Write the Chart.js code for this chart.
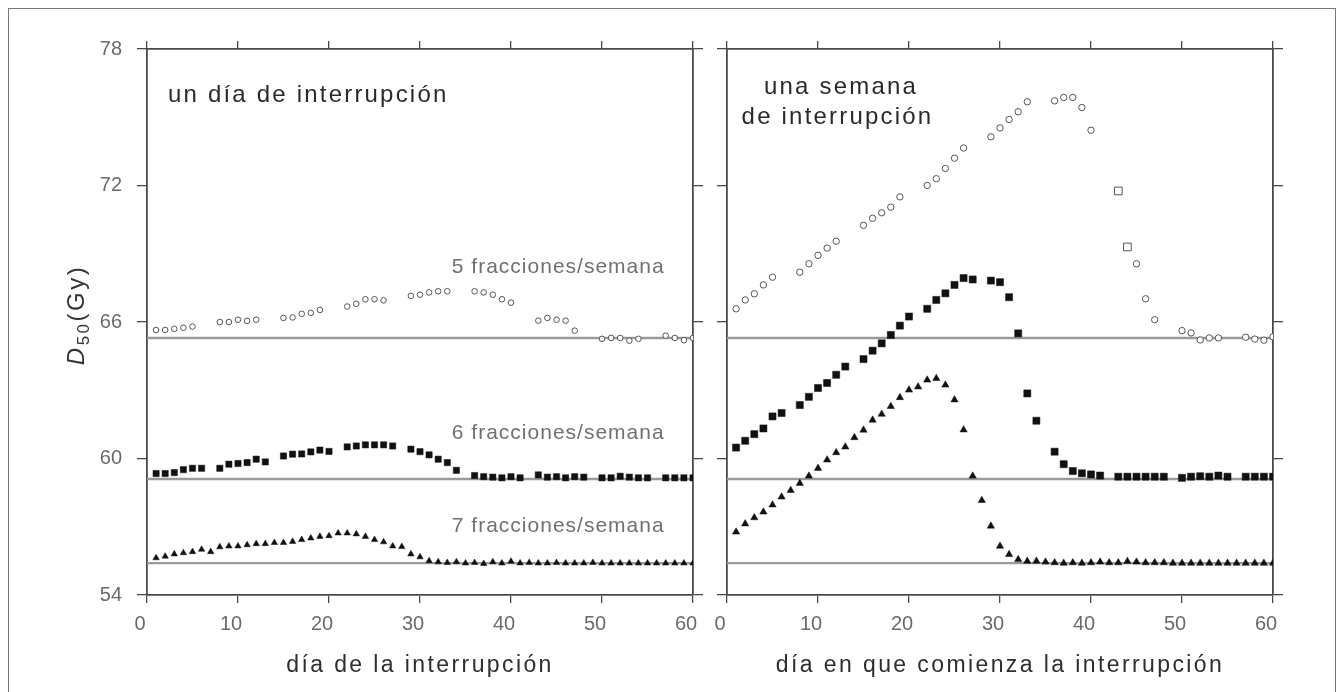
<!DOCTYPE html>
<html lang="es">
<head>
<meta charset="utf-8">
<title>D50 según el día de interrupción</title>
<script src="https://cdn.jsdelivr.net/npm/chart.js@4.4.1/dist/chart.umd.min.js"></script>
<style>
  html, body { margin: 0; padding: 0; background: #fff; }
  #lienzo { position: relative; width: 1343px; height: 692px; overflow: hidden; }
  #marco { position: absolute; left: 8px; top: 8px; width: 1326px; height: 700px; border: 1px solid #777; }
  canvas { position: absolute; left: 0; top: 0; }
</style>
</head>
<body>
<div id="lienzo">
  <div id="marco"></div>
  <canvas id="izquierda" width="1343" height="692"></canvas>
  <canvas id="derecha" width="1343" height="692"></canvas>
</div>
<script>
// días de tratamiento (eje x de ambos paneles)
const dias = [1, 2, 3, 4, 5, 6, 7, 8, 9, 10, 11, 12, 13, 14, 15, 16, 17, 18, 19, 20,
  21, 22, 23, 24, 25, 26, 27, 28, 29, 30, 31, 32, 33, 34, 35, 36, 37, 38, 39, 40,
  41, 42, 43, 44, 45, 46, 47, 48, 49, 50, 51, 52, 53, 54, 55, 56, 57, 58, 59, 60];

const ticksX = [0, 10, 20, 30, 40, 50, 60];
const ticksY = [54, 60, 66, 72, 78];

// D50 sin interrupción para cada esquema (líneas grises)
const lineasBase = [65.3, 59.1, 55.4];

// un día de interrupción
const izq5 = [65.65, 65.65, 65.7, 65.75, 65.8, null, null,
  66.0, 66.0, 66.1, 66.05, 66.1, null, null,
  66.18, 66.2, 66.36, 66.4, 66.53, null, null,
  66.68, 66.8, 67.0, 67.0, 66.95, null, null,
  67.15, 67.2, 67.3, 67.35, 67.35, null, null,
  67.35, 67.3, 67.2, 67.0, 66.85, null, null,
  66.06, 66.18, 66.1, 66.06, 65.62, null, null,
  65.26, 65.3, 65.3, 65.18, 65.26, null, null,
  65.4, 65.3, 65.2, 65.3];

const izq6 = [59.34, 59.34, 59.38, 59.51, 59.57, 59.57, null,
  59.57, 59.75, 59.78, 59.82, 59.97, 59.85, null,
  60.11, 60.19, 60.2, 60.29, 60.37, 60.31, null,
  60.51, 60.55, 60.6, 60.6, 60.6, 60.55, null,
  60.41, 60.3, 60.16, 59.97, 59.82, 59.48, null,
  59.25, 59.2, 59.18, 59.15, 59.2, 59.15, null,
  59.28, 59.18, 59.2, 59.15, 59.2, 59.18, null,
  59.15, 59.15, 59.22, 59.18, 59.15, 59.15, null,
  59.15, 59.15, 59.15, 59.15];

const izq7 = [55.63, 55.7, 55.8, 55.85, 55.9, 56.0, 55.9, 56.11, 56.15, 56.15,
  56.2, 56.25, 56.25, 56.3, 56.3, 56.35, 56.43, 56.5, 56.57, 56.6,
  56.72, 56.72, 56.68, 56.57, 56.43, 56.33, 56.15, 56.12, 55.8, 55.67,
  55.5, 55.45, 55.42, 55.45, 55.4, 55.42, 55.38, 55.45, 55.4, 55.48,
  55.4, 55.42, 55.4, 55.4, 55.42, 55.4, 55.4, 55.4, 55.42, 55.4,
  55.4, 55.4, 55.4, 55.4, 55.4, 55.4, 55.4, 55.4, 55.4, 55.4];

// una semana de interrupción, según el día en que comienza
const der5 = [66.58, 66.97, 67.24, 67.63, 67.97, null, null,
  68.19, 68.56, 68.93, 69.25, 69.55, null, null,
  70.25, 70.56, 70.8, 71.05, 71.5, null, null,
  72.0, 72.3, 72.75, 73.2, 73.65, null, null,
  74.14, 74.53, 74.9, 75.24, 75.68, null, null,
  75.72, 75.87, 75.87, 75.43, 74.43, null, null,
  71.76, 69.3, 68.56, 67.02, 66.1, null, null,
  65.62, 65.52, 65.21, 65.3, 65.3, null, null,
  65.33, 65.25, 65.2, 65.35];

const der6 = [60.48, 60.78, 61.07, 61.32, 61.85, 62.0, null,
  62.35, 62.71, 63.1, 63.32, 63.68, 64.04, null,
  64.37, 64.74, 65.06, 65.43, 65.84, 66.24, null,
  66.58, 66.97, 67.26, 67.63, 67.93, 67.87, null,
  67.82, 67.75, 67.09, 65.5, 62.86, 61.66, null,
  60.3, 59.75, 59.45, 59.35, 59.3, 59.25, null,
  59.2, 59.2, 59.2, 59.2, 59.2, 59.2, null,
  59.15, 59.2, 59.22, 59.2, 59.25, 59.2, null,
  59.2, 59.2, 59.2, 59.2];

const der7 = [56.77, 57.13, 57.4, 57.65, 57.96, 58.31, 58.6, 58.91, 59.23, 59.57,
  59.94, 60.26, 60.51, 60.92, 61.25, 61.69, 61.95, 62.29, 62.68, 63.01,
  63.15, 63.45, 63.52, 63.23, 62.58, 61.26, 59.23, 58.16, 57.03, 56.15,
  55.78, 55.56, 55.49, 55.49, 55.45, 55.42, 55.4, 55.42, 55.4, 55.42,
  55.45, 55.42, 55.42, 55.48, 55.45, 55.42, 55.42, 55.42, 55.4, 55.4,
  55.4, 55.4, 55.4, 55.4, 55.4, 55.4, 55.4, 55.4, 55.4, 55.4];

// días en que la serie de 5 fracciones aparece con marca cuadrada hueca
const diasRecuadro = [43, 44];

const X_MIN = 0, X_MAX = 60, Y_MIN = 54, Y_MAX = 78;

// área de cada panel dentro del lienzo de 1343 x 692
const AREA_TOP = 49, AREA_BOTTOM = 595;
const ANCHO = 1343, ALTO = 692;

const FUENTE = '"Liberation Sans", Arial, sans-serif';
const GRIS_EJE = '#4a4a4a';

function puntos(valores) {
  const out = [];
  valores.forEach((v, i) => { if (v !== null) out.push({ x: dias[i], y: v }); });
  return out;
}

function lineaBase(valor) {
  return {
    type: 'line',
    data: [{ x: X_MIN, y: valor }, { x: X_MAX, y: valor }],
    borderColor: '#9a9a9a',
    borderWidth: 2.4,
    pointRadius: 0,
    showLine: true,
    order: 10
  };
}

function serie(valores, estilo, r, recuadro) {
  const base = { data: puntos(valores), showLine: false, order: 1, pointHoverRadius: 0 };
  if (estilo === 'circulo') {
    const esCuadro = c => (recuadro || []).includes(c.raw && c.raw.x);
    return Object.assign(base, {
      pointStyle: c => esCuadro(c) ? 'rect' : 'circle',
      pointRadius: c => esCuadro(c) ? r * 1.7 : r,
      pointBorderWidth: 1,
      pointBorderColor: '#555', pointBackgroundColor: '#fff' });
  }
  if (estilo === 'cuadrado') {
    return Object.assign(base, { pointStyle: 'rect', pointRadius: r, pointBorderWidth: 0.5,
      pointBorderColor: '#111', pointBackgroundColor: '#111' });
  }
  return Object.assign(base, { pointStyle: 'triangle', pointRadius: r, pointBorderWidth: 0.5,
    pointBorderColor: '#111', pointBackgroundColor: '#111' });
}

// textos del panel: notas en coordenadas de datos, título del eje x y D50(Gy)
const notas = {
  id: 'notas',
  afterDatasetsDraw(chart, args, opts) {
    const ctx = chart.ctx;
    const xs = chart.scales.x, ys = chart.scales.y;
    const a = chart.chartArea;
    ctx.save();
    ctx.textBaseline = 'alphabetic';
    (opts.items || []).forEach(it => {
      ctx.font = it.font;
      ctx.fillStyle = it.color;
      ctx.letterSpacing = it.espacio || '0px';
      ctx.textAlign = it.align || 'left';
      ctx.fillText(it.text, xs.getPixelForValue(it.x), ys.getPixelForValue(it.y));
    });

    ctx.font = '23px ' + FUENTE;
    ctx.fillStyle = '#2e2e2e';
    ctx.letterSpacing = '2.4px';
    ctx.textAlign = 'center';
    ctx.fillText(opts.tituloX, (a.left + a.right) / 2, a.bottom + 77);

    if (opts.tituloY) {
      // D50(Gy) en vertical, con la D en cursiva y el 50 como subíndice
      const fD = 'italic 24px ' + FUENTE, fSub = '17px ' + FUENTE, fG = '24px ' + FUENTE;
      ctx.letterSpacing = '2.5px';
      ctx.font = fD; const wD = ctx.measureText('D').width;
      ctx.font = fSub; const wS = ctx.measureText('50').width;
      ctx.font = fG; const wG = ctx.measureText('(Gy)').width;
      const total = wD + wS + wG;
      ctx.translate(84, (a.top + a.bottom) / 2 - 7);
      ctx.rotate(-Math.PI / 2);
      ctx.textAlign = 'left';
      ctx.fillStyle = '#333';
      let px = -total / 2;
      ctx.font = fD; ctx.fillText('D', px, 0); px += wD;
      ctx.font = fSub; ctx.fillText('50', px, 5); px += wS;
      ctx.font = fG; ctx.fillText('(Gy)', px, 0);
    }
    ctx.restore();
  }
};

function ejes(conEtiquetasY, anchoIzq, anchoDer) {
  const gridX = { drawOnChartArea: false, tickLength: 8, color: GRIS_EJE, lineWidth: 1.3 };
  const gridY = { drawOnChartArea: false, tickLength: 10, color: GRIS_EJE, lineWidth: 1.3 };
  const borde = { display: true, color: GRIS_EJE, width: 1.8 };
  const fijo = (prop, v) => s => { s[prop] = v; };
  const tx = s => { s.ticks = ticksX.map(v => ({ value: v })); };
  const ty = s => { s.ticks = ticksY.map(v => ({ value: v })); };
  return {
    x: {
      type: 'linear', position: 'bottom', min: X_MIN, max: X_MAX, afterBuildTicks: tx,
      ticks: { font: { family: FUENTE, size: 20 }, color: '#6a6a6a', padding: 9, labelOffset: -7 },
      grid: gridX, border: borde,
      afterFit: fijo('height', ALTO - AREA_BOTTOM)
    },
    x2: {
      type: 'linear', position: 'top', min: X_MIN, max: X_MAX, afterBuildTicks: tx,
      ticks: { display: false }, grid: gridX, border: borde,
      afterFit: fijo('height', AREA_TOP)
    },
    y: {
      type: 'linear', position: 'left', min: Y_MIN, max: Y_MAX, afterBuildTicks: ty,
      ticks: { display: conEtiquetasY, font: { family: FUENTE, size: 20 }, color: '#6a6a6a', padding: 15 },
      grid: gridY, border: borde,
      afterFit: fijo('width', anchoIzq)
    },
    y2: {
      type: 'linear', position: 'right', min: Y_MIN, max: Y_MAX, afterBuildTicks: ty,
      ticks: { display: false }, grid: gridY, border: borde,
      afterFit: fijo('width', anchoDer)
    }
  };
}

function panel(id, series, tam, anchoIzq, anchoDer, tituloX, items, tituloY, recuadro) {
  return new Chart(document.getElementById(id), {
    type: 'scatter',
    data: {
      datasets: [
        ...lineasBase.map(lineaBase),
        serie(series[0], 'circulo', tam[0], recuadro),
        serie(series[1], 'cuadrado', tam[1]),
        serie(series[2], 'triangulo', tam[2])
      ]
    },
    options: {
      responsive: false,
      animation: false,
      devicePixelRatio: 1,
      layout: { padding: 0 },
      events: [],
      scales: ejes(tituloY, anchoIzq, anchoDer),
      plugins: {
        legend: { display: false },
        tooltip: { enabled: false },
        notas: { items, tituloX, tituloY }
      }
    },
    plugins: [notas]
  });
}

const fuenteGrande = '24px ' + FUENTE;
const fuenteSerie = '21px ' + FUENTE;

panel('izquierda', [izq5, izq6, izq7], [2.8, 4.4, 3.7], 147, ANCHO - 693, 'día de la interrupción', [
  { text: 'un día de interrupción', x: 2.3, y: 75.67, font: fuenteGrande, color: '#2a2a2a', espacio: '2.2px' },
  { text: '5 fracciones/semana', x: 33.5, y: 68.15, font: fuenteSerie, color: '#707070', espacio: '1px' },
  { text: '6 fracciones/semana', x: 33.5, y: 60.86, font: fuenteSerie, color: '#707070', espacio: '1px' },
  { text: '7 fracciones/semana', x: 33.5, y: 56.77, font: fuenteSerie, color: '#707070', espacio: '1px' }
], true, []);

panel('derecha', [der5, der6, der7], [3.2, 5, 4.2], 727, ANCHO - 1273, 'día en que comienza la interrupción', [
  { text: 'una semana', x: 12.53, y: 76.02, font: fuenteGrande, color: '#2a2a2a', align: 'center', espacio: '2.2px' },
  { text: 'de interrupción', x: 12.14, y: 74.70, font: fuenteGrande, color: '#2a2a2a', align: 'center', espacio: '2.2px' }
], false, diasRecuadro);
</script>
</body>
</html>
